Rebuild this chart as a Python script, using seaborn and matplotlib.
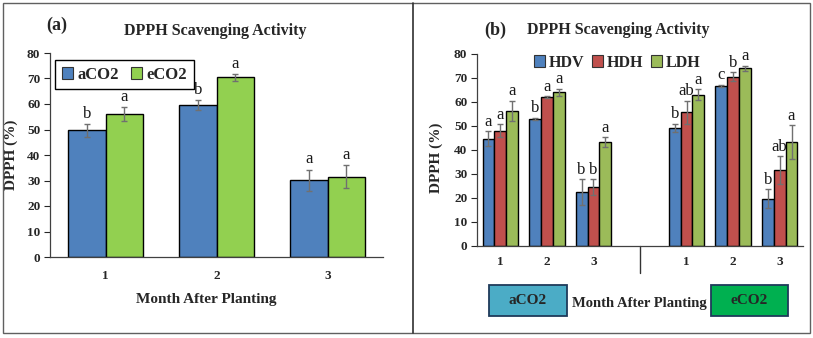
import matplotlib
matplotlib.use("Agg")
import matplotlib.pyplot as plt
from matplotlib.patches import Rectangle, Patch
from matplotlib.lines import Line2D
import matplotlib.transforms as mtransforms
import seaborn as sns
import pandas as pd
import numpy as np

# ---------------- data ----------------
months = ["1", "2", "3"]

# panel (a)
a_treat = ["aCO2", "eCO2"]
a_vals = {"aCO2": [49.7, 59.6, 30.1], "eCO2": [56.0, 70.5, 31.5]}
a_err = {"aCO2": [2.5, 1.9, 4.2], "eCO2": [2.7, 1.4, 4.5]}
a_letters = {"aCO2": ["b", "b", "a"], "eCO2": ["a", "a", "a"]}

# panel (b)
b_cultivars = ["HDV", "HDH", "LDH"]
b_slots = ["a1", "a2", "a3", "gap", "e1", "e2", "e3"]
b_ticklabels = ["1", "2", "3", "", "1", "2", "3"]
b_vals = {
    "HDV": [44.7, 53.0, 22.4, None, 49.2, 66.7, 19.7],
    "HDH": [48.0, 62.0, 24.6, None, 55.7, 70.6, 31.7],
    "LDH": [56.3, 64.0, 43.3, None, 63.0, 74.0, 43.3],
}
b_err = {
    "HDV": [3.2, 0.5, 5.5, None, 1.8, 0.5, 4.0],
    "HDH": [2.7, 0.4, 3.3, None, 4.8, 1.8, 5.8],
    "LDH": [4.2, 1.5, 2.0, None, 2.3, 1.2, 7.0],
}
b_letters = {
    "HDV": ["a", "b", "b", None, "b", "c", "b"],
    "HDH": ["a", "a", "b", None, "ab", "b", "ab"],
    "LDH": ["a", "a", "a", None, "a", "a", "a"],
}

# ---------------- style ----------------
sns.set_style("white")
plt.rcParams["font.family"] = ["Liberation Serif", "DejaVu Serif"]
plt.rcParams["axes.edgecolor"] = "#404040"

W, H = 813, 338
fig = plt.figure(figsize=(W / 100, H / 100), dpi=100)


def fx(px):
    return px / W


def fy(py):
    return 1 - py / H


# ---------------- panel (a) ----------------
ax1 = fig.add_axes([fx(50), fy(257), fx(383) - fx(50), fy(53) - fy(257)])
rows = []
for t in a_treat:
    for m, v in zip(months, a_vals[t]):
        rows.append({"month": m, "treat": t, "val": v})
dfa = pd.DataFrame(rows)
acols = ["#4F81BD", "#92D050"]
sns.barplot(data=dfa, x="month", y="val", hue="treat", order=months, hue_order=a_treat,
            palette=acols, saturation=1, errorbar=None, width=0.67,
            edgecolor="black", linewidth=1.0, ax=ax1, legend=False)
for ci, t in enumerate(a_treat):
    cont = ax1.containers[ci]
    for p in cont.patches:
        xc = p.get_x() + p.get_width() / 2
        k = int(round(xc))
        v = a_vals[t][k]
        e = a_err[t][k]
        ax1.errorbar(xc, v, yerr=e, color="#707070", capsize=2.5, elinewidth=1.0, capthick=1.0)
        ax1.annotate(a_letters[t][k], (xc, v + e), xytext=(0, 1.5), textcoords="offset points",
                     ha="center", va="bottom", fontsize=12, color="#1a1a1a")
ax1.set_ylim(0, 80)
ax1.set_xlim(-0.5, 2.5)
ax1.set_yticks(range(0, 81, 10))
ax1.tick_params(axis="y", left=True, length=4, width=0.8, labelsize=9.5, pad=3)
ax1.tick_params(axis="x", bottom=False, labelsize=9.5, pad=6)
for lab in ax1.get_yticklabels() + ax1.get_xticklabels():
    lab.set_fontweight("bold")
ax1.set_ylabel("DPPH (%)", fontsize=11, fontweight="bold")
ax1.yaxis.set_label_coords((18 - 50) / 333, 0.5)
ax1.set_xlabel("Month After Planting", fontsize=11, fontweight="bold")
ax1.xaxis.label.set_verticalalignment("center")
ax1.xaxis.set_label_coords((206 - 50) / 333, -(299 - 257) / 204)
for s in ["top", "right"]:
    ax1.spines[s].set_visible(False)
ax1.spines["left"].set_linewidth(0.9)
ax1.spines["bottom"].set_linewidth(0.9)
ha = [Patch(facecolor=c, edgecolor="#333333", linewidth=0.8) for c in acols]
leg1 = ax1.legend(ha, a_treat, loc="upper left", bbox_to_anchor=(0.015, 0.966), borderaxespad=0,
                  ncol=2, prop={"weight": "bold", "size": 12}, handlelength=0.7, handleheight=0.7,
                  handletextpad=0.25, columnspacing=0.7, fancybox=False, edgecolor="black",
                  framealpha=1, borderpad=0.4)
leg1.get_frame().set_linewidth(1.0)
fig.text(fx(57), fy(25), "(a)", fontsize=13, fontweight="bold", ha="center", va="center")
fig.text(fx(215), fy(31), "DPPH Scavenging Activity", fontsize=11.5, fontweight="bold",
         ha="center", va="center")

# ---------------- panel (b) ----------------
ax2 = fig.add_axes([fx(477), fy(246), fx(803) - fx(477), fy(54) - fy(246)])
rows = []
for c in b_cultivars:
    for s, v in zip(b_slots, b_vals[c]):
        if v is not None:
            rows.append({"slot": s, "cult": c, "val": v})
dfb = pd.DataFrame(rows)
bcols = ["#4F81BD", "#C0504D", "#9BBB59"]
sns.barplot(data=dfb, x="slot", y="val", hue="cult", order=b_slots, hue_order=b_cultivars,
            palette=bcols, saturation=1, errorbar=None, width=0.76, edgecolor="black",
            linewidth=1.0, ax=ax2, legend=False)
for ci, c in enumerate(b_cultivars):
    cont = ax2.containers[ci]
    for p in cont.patches:
        if p.get_height() == 0 or np.isnan(p.get_height()):
            continue
        xc = p.get_x() + p.get_width() / 2
        k = int(round(xc))
        v = b_vals[c][k]
        e = b_err[c][k]
        ax2.errorbar(xc, v, yerr=e, color="#707070", capsize=2.2, elinewidth=1.0, capthick=1.0)
        ax2.annotate(b_letters[c][k], (xc, v + e), xytext=(0, 1.0), textcoords="offset points",
                     ha="center", va="bottom", fontsize=12, color="#1a1a1a")
ax2.set_ylim(0, 80)
ax2.set_xlim(-0.5, 6.5)
ax2.set_yticks(range(0, 81, 10))
ax2.set_xticks(range(len(b_slots)))
ax2.set_xticklabels(b_ticklabels)
ax2.tick_params(axis="y", left=True, length=4, width=0.8, labelsize=9.5, pad=3)
ax2.tick_params(axis="x", bottom=False, labelsize=9.5, pad=4)
for lab in ax2.get_yticklabels() + ax2.get_xticklabels():
    lab.set_fontweight("bold")
ax2.set_ylabel("DPPH (%)", fontsize=11, fontweight="bold")
ax2.yaxis.set_label_coords((443 - 477) / 326, 0.46)
ax2.set_xlabel("")
for s in ["top", "right"]:
    ax2.spines[s].set_visible(False)
ax2.spines["left"].set_linewidth(0.9)
ax2.spines["bottom"].set_linewidth(0.9)
trans = mtransforms.blended_transform_factory(ax2.transData, ax2.transAxes)
ax2.plot([3, 3], [0, -0.14], transform=trans, color="#333333", lw=1.0, clip_on=False)
hb = [Patch(facecolor=c, edgecolor="#333333", linewidth=0.8) for c in bcols]
ax2.legend(hb, b_cultivars, loc="center", bbox_to_anchor=(0.43, 0.955), borderaxespad=0,
           ncol=3, frameon=False, prop={"weight": "bold", "size": 11.5}, handlelength=0.7,
           handleheight=0.7, handletextpad=0.2, columnspacing=0.5, borderpad=0)
fig.text(fx(495), fy(30), "(b)", fontsize=13, fontweight="bold", ha="center", va="center")
fig.text(fx(618), fy(30), "DPPH Scavenging Activity", fontsize=11.5, fontweight="bold",
         ha="center", va="center")

# boxes under panel b
for (x0, x1, col, lab) in [(489, 567, "#4BACC6", "aCO2"), (711, 788, "#00B050", "eCO2")]:
    fig.add_artist(Rectangle((fx(x0), fy(316)), fx(x1) - fx(x0), fy(285) - fy(316),
                             transform=fig.transFigure, facecolor=col, edgecolor="#1F3A5A",
                             linewidth=1.3))
    fig.text(fx((x0 + x1) / 2), fy(301), lab, fontsize=11, fontweight="bold",
             ha="center", va="center")
fig.text(fx(639), fy(304), "Month After Planting", fontsize=10.5, fontweight="bold",
         ha="center", va="center")

# outer frame & divider
fig.add_artist(Rectangle((fx(3), fy(333)), fx(810) - fx(3), fy(3) - fy(333),
                         transform=fig.transFigure, fill=False, edgecolor="#606060", linewidth=1.0))
fig.add_artist(Line2D([fx(413), fx(413)], [fy(3), fy(333)], transform=fig.transFigure,
                      color="#303030", linewidth=1.2))

fig.savefig("out.png", dpi=100)
